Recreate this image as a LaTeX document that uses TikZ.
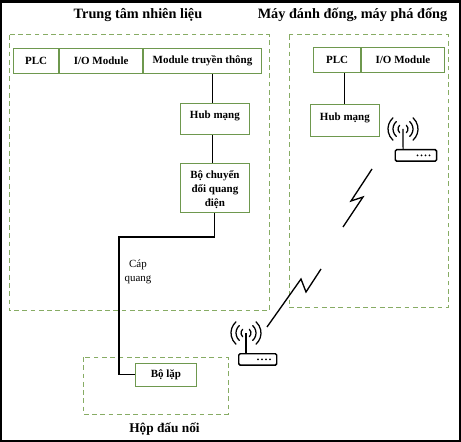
\documentclass[tikz,border=0pt]{standalone}
\usepackage{fontspec}
\setmainfont{Liberation Serif}
\usetikzlibrary{positioning, calc}

\definecolor{framegreen}{RGB}{135,172,100}
\definecolor{boxgreen}{RGB}{110,152,78}

\begin{document}
\begin{tikzpicture}[
        x=0.75pt, y=-0.75pt,
        font=\fontsize{8.25}{9.5}\selectfont\bfseries,
        frame/.style={draw=framegreen, line width=0.75pt, dash pattern=on 3.6pt off 2.6pt},
        box/.style={rectangle, draw=boxgreen, line width=0.85pt, fill=white, inner sep=0pt,
                    align=center, anchor=north west},
        cell/.style={box, minimum height=18.5pt},
        hubbox/.style={box, minimum width=51.5pt, minimum height=23.5pt, text depth=6.5pt},
        title/.style={font=\fontsize{10.7}{12}\selectfont\bfseries},
        lbl/.style={font=\fontsize{8.2}{10.5}\selectfont, align=center},
        wire/.style={draw=black, line width=0.8pt},
        bolt/.style={draw=black, line width=1pt},
        router/.style={draw=black, line width=1.1pt, rounded corners=1pt, inner sep=0pt,
                       minimum height=8.5pt, anchor=north west},
        wave/.style={draw=black, line width=0.95pt, line cap=round}
    ]

    % white page with the dark edge of the screenshot
    \fill[black] (0,0) rectangle (461,442);
    \fill[white] (2,3) rectangle (459,440);
    \useasboundingbox (0,0) rectangle (461,442);

    % Titles
    \node[title] (titleA) at (138,15) {Trung tâm nhiên liệu};
    \node[title] (titleB) at (352.5,15) {Máy đánh đống, máy phá đống};
    \node[title, font=\fontsize{10}{12}\selectfont\bfseries] (titleC) at (164.5,429) {Hộp đấu nối};

    % Dashed frames
    \draw[frame] (9,35) rectangle (269,311);
    \draw[frame] (289,35) rectangle (448,308);
    \draw[frame] (83,357) rectangle (228,414);

    % Fuel centre
    \node[cell, minimum width=33.7pt] (plcA) at (13,48) {PLC};
    \node[cell, minimum width=62.2pt, right=0pt of plcA] (ioA) {I/O Module};
    \node[cell, minimum width=88.2pt, right=0pt of ioA] (commA) {Module truyền thông};
    \node[hubbox] (hubA) at (180,103) {Hub mạng};
    \node[box, minimum width=51.5pt, minimum height=37pt] (conv) at (180,163) {\rule{0pt}{8pt}Bộ chuyển\\[1pt]đổi quang\\[1pt]điện};

    % Machine side
    \node[cell, minimum width=35.2pt] (plcB) at (313,47) {PLC};
    \node[cell, minimum width=62pt, right=0pt of plcB] (ioB) {I/O Module};
    \node[hubbox, minimum height=24pt] (hubB) at (310,104) {Hub mạng};

    % Repeater
    \node[box, minimum width=45.5pt, minimum height=17pt] (rep) at (135,363) {Bộ lặp};
    \node[lbl] (cable) at (138,272) {Cáp\\quang};

    % Wires
    \draw[wire] ([xshift=-1.9pt]hubA.north) -- ([xshift=-1.9pt]hubA.north |- commA.south);
    \draw[wire] ([xshift=-1.9pt]hubA.south) -- ([xshift=-1.9pt]hubA.south |- conv.north);
    \draw[wire] (conv.south) |- (119,237) |- (rep.west);
    \draw[wire] (hubB.north) -- (hubB.north |- plcB.south);

    % Router, right
    \node[router, minimum width=31pt] (routerB) at (394.5,149) {};
    \coordinate (tipB) at (403,129);
    \draw[wire] ([xshift=6.4pt]routerB.north west) -- (tipB);
    \foreach \r in {5,10,15} {
        \draw[wave] ($(tipB)+(-48:\r*0.75pt)$) arc (-48:48:\r*0.75pt);
        \draw[wave] ($(tipB)+(132:\r*0.75pt)$) arc (132:228:\r*0.75pt);
    }
    \foreach \d in {23,27,31,35} {
        \fill ([xshift=\d*0.75pt]routerB.west) circle (0.75pt);
    }

    % Router, left
    \node[router, minimum width=28.5pt] (routerA) at (238,353) {};
    \coordinate (tipA) at (246,333);
    \draw[wire] ([xshift=6pt]routerA.north west) -- (tipA);
    \foreach \r in {5,10,15} {
        \draw[wave] ($(tipA)+(-48:\r*0.75pt)$) arc (-48:48:\r*0.75pt);
        \draw[wave] ($(tipA)+(132:\r*0.75pt)$) arc (132:228:\r*0.75pt);
    }
    \foreach \d in {20,24,28,32} {
        \fill ([xshift=\d*0.75pt]routerA.west) circle (0.75pt);
    }

    % Radio links
    \coordinate (boltA) at (267,327);
    \coordinate (boltB) at (321,269);
    \draw[bolt] (boltA) -- (301,279) -- (306,292) -- (boltB);
    \coordinate (boltC) at (372,169);
    \coordinate (boltD) at (343,227);
    \draw[bolt] (boltC) -- (351,201) -- (363,197) -- (boltD);

    \end{tikzpicture}
\end{document}
